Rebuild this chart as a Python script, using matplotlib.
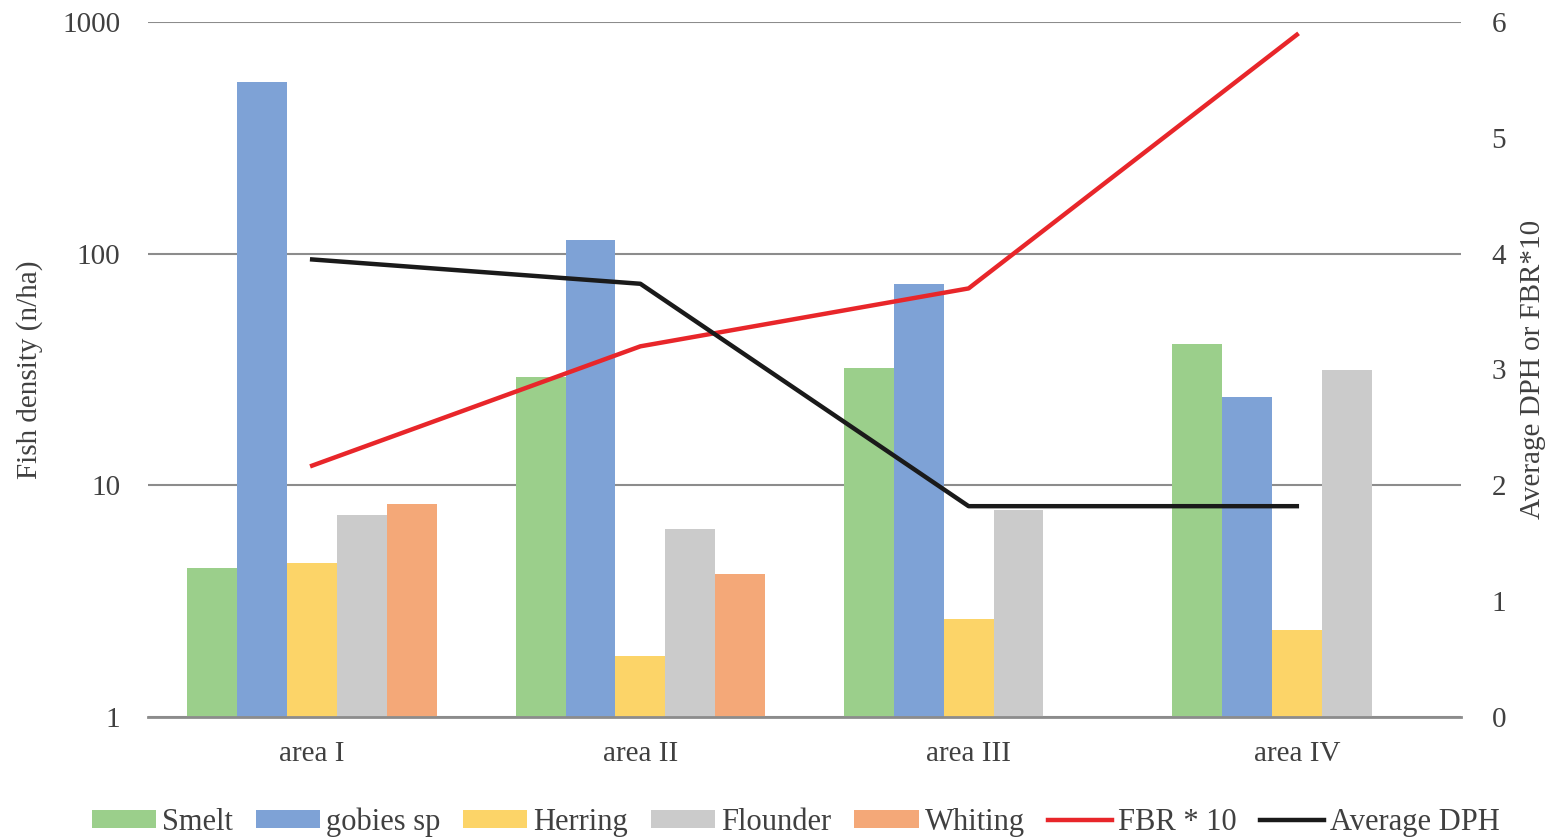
import matplotlib.pyplot as plt
import numpy as np

plt.rcParams['font.family'] = ['Liberation Serif', 'DejaVu Serif']

areas = ['area I', 'area II', 'area III', 'area IV']
species = ['Smelt', 'gobies sp', 'Herring', 'Flounder', 'Whiting']
colors = ['#9bcf8b', '#7ea2d6', '#fcd468', '#cbcbcb', '#f4a878']

# fish density (n/ha) per species, one value per area (nan = not caught)
smelt = [4.4, 29.3, 32.0, 40.7]
gobies = [550, 114, 74, 24]
herring = [4.6, 1.83, 2.65, 2.37]
flounder = [7.45, 6.5, 7.8, 31.5]
whiting = [8.3, 4.14, np.nan, np.nan]

fbr_x10 = [2.17, 3.2, 3.7, 5.89]
avg_dph = [3.95, 3.74, 1.82, 1.82]

densities = [smelt, gobies, herring, flounder, whiting]

fig = plt.figure(figsize=(15.6, 8.39), dpi=100)
ax = fig.add_axes([0.0949, 0.1454, 0.8416, 0.8284])
ax2 = ax.twinx()

x = np.arange(len(areas))
w = 0.152
for i, (name, vals, c) in enumerate(zip(species, densities, colors)):
    ax.bar(x + (i - 2) * w, vals, width=w, color=c, label=name, zorder=2)

ax.set_yscale('log')
ax.set_ylim(1, 1000)
ax.set_xlim(-0.5, 3.5)
ax.set_yticks([1, 10, 100, 1000])
ax.set_yticklabels(['1', '10', '100', '1000'])
ax.minorticks_off()
ax.yaxis.grid(True, color='#8c8c8c', lw=1.5, zorder=0)
ax.set_axisbelow(True)
ax.set_xticks(x)
ax.set_xticklabels(areas)
ax.tick_params(length=0, labelsize=21, colors='#404040', pad=17)
ax.tick_params(axis='y', pad=20)
for s in ['top', 'left', 'right']:
    ax.spines[s].set_visible(False)
ax.spines['bottom'].set_color('#8c8c8c')
ax.spines['bottom'].set_linewidth(2)
ax.set_ylabel('Fish density (n/ha)', fontsize=21, color='#404040', labelpad=14)

ax2.plot(x, fbr_x10, color='#e8262a', lw=3.2, label='FBR * 10', zorder=3)
ax2.plot(x, avg_dph, color='#1a1a1a', lw=3.2, label='Average DPH', zorder=3)
ax2.set_ylim(0, 6)
ax2.set_yticks(range(7))
ax2.tick_params(length=0, labelsize=21, colors='#404040', pad=22)
for s in ax2.spines.values():
    s.set_visible(False)
ax2.set_ylabel('Average DPH or FBR*10', fontsize=21, color='#404040', labelpad=10)

h1, l1 = ax.get_legend_handles_labels()
h2, l2 = ax2.get_legend_handles_labels()
leg = fig.legend(h1 + h2, l1 + l2, loc='lower center', ncol=7, frameon=False,
                 fontsize=22, bbox_to_anchor=(0.51, -0.03), handlelength=2.1,
                 handleheight=0.55, columnspacing=0.75, handletextpad=0.2)
for t in leg.get_texts():
    t.set_color('#404040')

fig.savefig('out.png', dpi=100)
